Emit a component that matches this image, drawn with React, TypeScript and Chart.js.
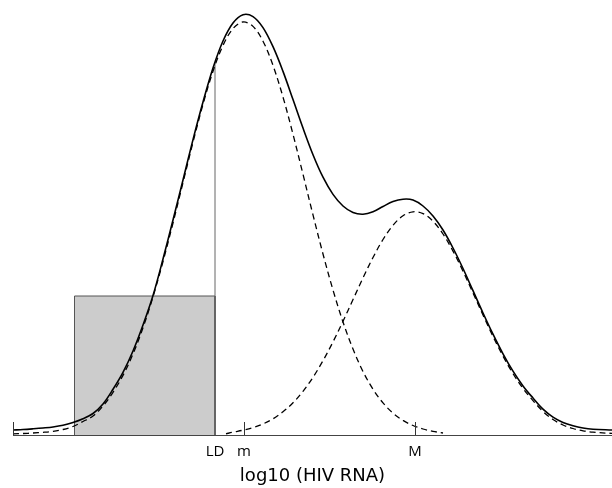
import { useEffect, useRef } from 'react';
import { Chart, registerables } from 'chart.js';

Chart.register(...registerables);

// x: log10 (HIV RNA) (arbitrary units), y: density
const lowX = [0, 0.1, 0.2, 0.3, 0.4, 0.5, 0.6, 0.7, 0.8, 0.9, 1.0, 1.1, 1.2, 1.3, 1.4, 1.5, 1.6, 1.7, 1.8, 1.9, 2.0, 2.1, 2.2, 2.3, 2.4, 2.5, 2.6, 2.7, 2.8, 2.9, 3.0, 3.1, 3.2, 3.3, 3.4, 3.5, 3.6, 3.7, 3.8, 3.9, 4.0, 4.1, 4.2, 4.3];
const lowY = [0.012, 0.015, 0.02, 0.027, 0.037, 0.055, 0.085, 0.135, 0.19, 0.29, 0.427, 0.596, 0.81, 1.072, 1.382, 1.735, 2.12, 2.525, 2.928, 3.307, 3.637, 3.896, 4.064, 4.13, 4.086, 3.938, 3.696, 3.379, 3.007, 2.607, 2.201, 1.81, 1.45, 1.13, 0.859, 0.635, 0.458, 0.321, 0.219, 0.146, 0.095, 0.06, 0.037, 0.02];

const highX = [2.13, 2.2, 2.3, 2.4, 2.5, 2.6, 2.7, 2.8, 2.9, 3.0, 3.1, 3.2, 3.3, 3.4, 3.5, 3.6, 3.7, 3.8, 3.9, 4.0, 4.1, 4.2, 4.3, 4.4, 4.5, 4.6, 4.7, 4.8, 4.9, 5.0, 5.1, 5.2, 5.3, 5.4, 5.5, 5.6, 5.7, 5.8, 5.99];
const highY = [0.012, 0.028, 0.048, 0.073, 0.111, 0.162, 0.232, 0.322, 0.437, 0.577, 0.743, 0.931, 1.138, 1.354, 1.571, 1.775, 1.955, 2.097, 2.192, 2.232, 2.214, 2.138, 2.01, 1.839, 1.638, 1.421, 1.2, 0.986, 0.789, 0.614, 0.466, 0.344, 0.235, 0.155, 0.1, 0.065, 0.042, 0.028, 0.016];

const totalX = [0, 0.1, 0.2, 0.3, 0.4, 0.5, 0.6, 0.7, 0.8, 0.9, 1.0, 1.1, 1.2, 1.3, 1.4, 1.5, 1.6, 1.7, 1.8, 1.9, 2.0, 2.1, 2.2, 2.3, 2.4, 2.5, 2.6, 2.7, 2.8, 2.9, 3.0, 3.1, 3.2, 3.3, 3.4, 3.5, 3.6, 3.7, 3.8, 3.9, 4.0, 4.1, 4.2, 4.3, 4.4, 4.5, 4.6, 4.7, 4.8, 4.9, 5.0, 5.1, 5.2, 5.3, 5.4, 5.5, 5.6, 5.7, 5.8, 5.99];
const totalY = [0.05, 0.055, 0.062, 0.07, 0.08, 0.097, 0.125, 0.163, 0.215, 0.31, 0.457, 0.626, 0.84, 1.1, 1.395, 1.76, 2.15, 2.55, 2.954, 3.33, 3.67, 3.94, 4.12, 4.203, 4.184, 4.074, 3.883, 3.636, 3.354, 3.069, 2.803, 2.578, 2.406, 2.29, 2.225, 2.208, 2.232, 2.285, 2.335, 2.358, 2.35, 2.29, 2.19, 2.05, 1.87, 1.665, 1.443, 1.22, 1.008, 0.812, 0.638, 0.491, 0.37, 0.258, 0.178, 0.125, 0.092, 0.07, 0.058, 0.05];

const LD = 2.02;
const mValue = 2.31;
const MValue = 4.02;
const ldCurveHeight = 3.72;
const boxLeft = 0.615;
const boxHeight = 1.39;

const tickValues = [0, LD, mValue, MValue];
const tickLabels = ['', 'LD', 'm', 'M'];
const markedTicks = [0, mValue, MValue];

const xMin = 0;
const xMax = 5.99;
const yMax = 4.35;

const toPoints = (xs: number[], ys: number[]) => xs.map((x, i) => ({ x, y: ys[i] }));

const tickMarksPlugin = {
  id: 'tickMarks',
  afterDatasetsDraw(chart: any) {
    const { ctx, scales } = chart;
    const xs = scales.x;
    const ys = scales.y;
    const base = ys.getPixelForValue(0);
    ctx.save();
    ctx.strokeStyle = '#333';
    ctx.lineWidth = 1;
    markedTicks.forEach((v) => {
      const px = Math.round(xs.getPixelForValue(v)) + 0.5;
      ctx.beginPath();
      ctx.moveTo(px, base);
      ctx.lineTo(px, base - 13);
      ctx.stroke();
    });
    ctx.restore();
  },
};

export default function App() {
  const canvasRef = useRef<HTMLCanvasElement | null>(null);

  useEffect(() => {
    if (!canvasRef.current) return;
    const chart = new Chart(canvasRef.current, {
      type: 'scatter',
      data: {
        datasets: [
          {
            label: 'box',
            data: [
              { x: boxLeft, y: 0 },
              { x: boxLeft, y: boxHeight },
              { x: LD, y: boxHeight },
              { x: LD, y: 0 },
            ],
            showLine: true,
            borderColor: '#555',
            borderWidth: 1,
            backgroundColor: '#cccccc',
            fill: 'origin',
            tension: 0,
            pointRadius: 0,
            order: 5,
          },
          {
            label: 'LD line',
            data: [
              { x: LD, y: 0 },
              { x: LD, y: ldCurveHeight },
            ],
            showLine: true,
            borderColor: '#666',
            borderWidth: 1,
            tension: 0,
            pointRadius: 0,
            order: 4,
          },
          {
            label: 'low',
            data: toPoints(lowX, lowY),
            showLine: true,
            borderColor: '#000',
            borderWidth: 1.3,
            borderDash: [6, 4],
            tension: 0.35,
            pointRadius: 0,
            order: 2,
          },
          {
            label: 'high',
            data: toPoints(highX, highY),
            showLine: true,
            borderColor: '#000',
            borderWidth: 1.3,
            borderDash: [6, 4],
            tension: 0.35,
            pointRadius: 0,
            order: 2,
          },
          {
            label: 'total',
            data: toPoints(totalX, totalY),
            showLine: true,
            borderColor: '#000',
            borderWidth: 1.6,
            tension: 0.35,
            pointRadius: 0,
            order: 1,
          },
        ],
      },
      options: {
        animation: false,
        responsive: true,
        maintainAspectRatio: false,
        layout: { padding: { left: 13, right: 0, top: 0, bottom: 0 } },
        plugins: {
          legend: { display: false },
          tooltip: { enabled: false },
        },
        scales: {
          x: {
            type: 'linear',
            position: 'bottom',
            min: xMin,
            max: xMax,
            grid: { display: false, drawTicks: false },
            border: { display: true, color: '#444', width: 1 },
            afterBuildTicks: (scale: any) => {
              scale.ticks = tickValues.map((v) => ({ value: v }));
            },
            afterFit: (scale: any) => {
              scale.height = 53;
            },
            ticks: {
              autoSkip: false,
              maxRotation: 0,
              padding: 8,
              color: '#000',
              font: { family: 'Open Sans', size: 15 },
              callback: (value: any) => {
                const i = tickValues.indexOf(Number(value));
                return i >= 0 ? tickLabels[i] : '';
              },
            },
            title: {
              display: true,
              text: 'log10 (HIV RNA)',
              color: '#000',
              font: { family: 'DejaVu Sans', size: 18 },
              padding: { top: 0, bottom: 1 },
            },
          },
          y: {
            display: false,
            min: 0,
            max: yMax,
          },
        },
      },
      plugins: [tickMarksPlugin],
    });
    return () => chart.destroy();
  }, []);

  return (
    <div style={{ position: 'absolute', left: 0, top: 0, width: 612, height: 488, background: '#fff' }}>
      <canvas ref={canvasRef} />
    </div>
  );
}
